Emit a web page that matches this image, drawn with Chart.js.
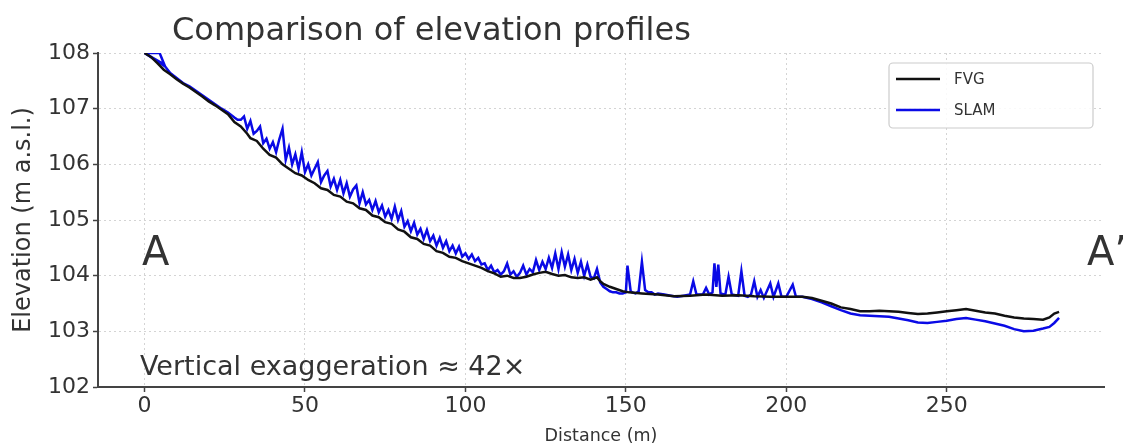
<!DOCTYPE html>
<html>
<head>
<meta charset="utf-8">
<script src="https://cdn.jsdelivr.net/npm/chart.js@4"></script>
<style>
  html, body { margin: 0; padding: 0; background: #fff; }
  #wrap { width: 1123px; height: 448px; position: relative; }
</style>
</head>
<body>
<div id="wrap"><canvas id="profileChart"></canvas></div>
<script>
// Distance (m) / elevation (m a.s.l.)
const distFvg = [0, 2, 4, 6, 8, 10, 12, 14, 16, 18, 20, 22, 24, 26, 28, 30, 32, 33, 35, 37, 39, 41, 43, 45, 47, 49,
  51, 53, 55, 57, 59, 61, 63, 65, 67, 69, 71, 73, 75, 77, 79, 81, 83, 85, 87, 89, 91, 93, 95, 97, 99,
  101, 103, 105, 107, 109, 111, 113, 115, 117, 119, 121, 123, 125, 127, 129, 131, 133, 135, 137, 139, 141, 142, 143, 145, 147, 149,
  151, 155, 160, 165, 170, 175, 180, 185, 190, 195, 200, 205, 208, 211, 214, 217, 220, 223, 226, 229, 232, 235, 238, 241, 244, 247,
  250, 253, 256, 259, 262, 265, 268, 271, 274, 277, 280, 282, 283.5, 285];
const elevFvg = [108.00, 107.93, 107.82, 107.70, 107.62, 107.53, 107.45, 107.38, 107.30, 107.22, 107.13, 107.06, 106.98, 106.90, 106.76, 106.68, 106.55, 106.47, 106.42, 106.28, 106.17, 106.12, 106.00, 105.92, 105.84, 105.80,
  105.72, 105.66, 105.57, 105.54, 105.45, 105.42, 105.33, 105.30, 105.21, 105.18, 105.08, 105.05, 104.96, 104.93, 104.83, 104.79, 104.69, 104.66, 104.57, 104.54, 104.44, 104.41, 104.34, 104.32, 104.26,
  104.22, 104.18, 104.14, 104.08, 104.04, 103.98, 104.00, 103.96, 103.96, 103.98, 104.02, 104.05, 104.07, 104.03, 104.00, 104.01, 103.97, 103.96, 103.97, 103.93, 103.97, 103.90, 103.85, 103.80, 103.76, 103.72,
  103.70, 103.68, 103.66, 103.63, 103.64, 103.66, 103.64, 103.65, 103.63, 103.62, 103.62, 103.62, 103.60, 103.55, 103.50, 103.43, 103.40, 103.36, 103.36, 103.37, 103.36, 103.35, 103.33, 103.31, 103.32, 103.34,
  103.36, 103.38, 103.40, 103.37, 103.34, 103.32, 103.28, 103.25, 103.23, 103.22, 103.21, 103.25, 103.32, 103.35];

const distSlam = [0, 4.7, 6.2, 0, 6.4, 8, 10, 12, 14, 16, 18, 20, 22, 24, 26, 28, 29,
  30, 31, 32, 33, 34, 35, 36, 37, 38, 39, 40, 41, 42, 43, 44, 45, 46, 47, 48, 49,
  50, 51, 52, 53, 54, 55, 56, 57, 58, 59, 60, 61, 62, 63, 64, 65, 66, 67, 68, 69,
  70, 71, 72, 73, 74, 75, 76, 77, 78, 79, 80, 81, 82, 83, 84, 85, 86, 87, 88, 89, 90, 91, 92, 93, 94, 95, 96, 97, 98, 99,
  100, 101, 102, 103, 104, 105, 106, 107, 108, 109, 110, 111, 112, 113, 114, 115, 116, 117, 118, 119, 120, 121, 122, 123, 124, 125, 126, 127, 128, 129,
  130, 131, 132, 133, 134, 135, 136, 137, 138, 139, 140, 141, 142, 143, 144, 145, 146, 147, 148, 149, 150, 150.5, 151.5, 152, 153, 154, 155, 156, 157, 158, 159,
  160, 162, 164, 166, 168, 170, 171, 172, 174, 175, 176, 177, 177.6, 178.2, 178.8, 179.5, 181, 182, 183, 185, 186, 187, 188, 189, 190, 191, 192, 193, 195, 196, 197.5, 198.5,
  200, 202, 203, 205, 208, 211, 214, 217, 220, 223, 226, 229, 232, 235, 238, 241, 244, 247, 250, 253, 256, 259, 262, 265, 268, 271, 274, 277, 280, 282, 283.5, 285];
const elevSlam = [108.00, 108.00, 107.79, 108.00, 107.76, 107.64, 107.55, 107.46, 107.40, 107.32, 107.24, 107.16, 107.08, 107.00, 106.93, 106.84, 106.80,
  106.80, 106.86, 106.64, 106.78, 106.55, 106.60, 106.68, 106.38, 106.46, 106.28, 106.40, 106.22, 106.45, 106.64, 106.08, 106.30, 106.00, 106.18, 105.92, 106.22,
  105.86, 106.00, 105.80, 105.92, 106.04, 105.68, 105.80, 105.88, 105.60, 105.74, 105.54, 105.72, 105.48, 105.66, 105.42, 105.55, 105.62, 105.30, 105.50, 105.28,
  105.36, 105.18, 105.34, 105.14, 105.26, 105.06, 105.18, 105.02, 105.24, 105.00, 105.16, 104.88, 104.98, 104.80, 104.95, 104.74, 104.84, 104.66, 104.82, 104.62, 104.72, 104.54, 104.68, 104.50, 104.62, 104.44, 104.54, 104.40, 104.52, 104.34,
  104.40, 104.30, 104.38, 104.26, 104.32, 104.20, 104.22, 104.10, 104.18, 104.06, 104.10, 104.02, 104.08, 104.22, 104.02, 104.08, 103.98, 104.05, 104.18, 104.02, 104.12, 104.06, 104.28, 104.10, 104.25, 104.12, 104.32, 104.14, 104.40, 104.12,
  104.42, 104.16, 104.38, 104.10, 104.30, 104.05, 104.25, 104.00, 104.20, 103.98, 103.95, 104.12, 103.88, 103.80, 103.76, 103.72, 103.70, 103.70, 103.68, 103.68, 103.70, 104.18, 103.72, 103.70, 103.68, 103.72, 104.25, 103.74, 103.70, 103.70, 103.66,
  103.68, 103.66, 103.64, 103.62, 103.64, 103.66, 103.90, 103.66, 103.66, 103.78, 103.66, 103.70, 104.22, 103.80, 104.20, 103.68, 103.66, 103.98, 103.66, 103.64, 104.08, 103.64, 103.62, 103.66, 103.90, 103.62, 103.74, 103.60, 103.86, 103.62, 103.86, 103.62,
  103.62, 103.84, 103.62, 103.62, 103.58, 103.52, 103.45, 103.38, 103.32, 103.29, 103.28, 103.27, 103.26, 103.23, 103.20, 103.16, 103.15, 103.17, 103.19, 103.22, 103.24, 103.21, 103.18, 103.14, 103.10, 103.04, 103.00, 103.01, 103.05, 103.08, 103.15, 103.24];

const xTicks = [0, 50, 100, 150, 200, 250];
const seriesNames = ['FVG', 'SLAM'];
const seriesColors = ['#111111', '#0a0ae6'];

const FONT = '"DejaVu Sans", sans-serif';
const TEXT = '#333333';

const toPoints = (xs, ys) => xs.map((x, i) => ({ x, y: ys[i] }));

// title, A / A' markers, annotation and the boxed legend
const overlay = {
  id: 'overlay',
  afterDraw(chart) {
    const ctx = chart.ctx;
    ctx.save();
    ctx.fillStyle = TEXT;
    ctx.textBaseline = 'alphabetic';
    ctx.textAlign = 'left';
    ctx.font = '32px ' + FONT;
    ctx.fillText('Comparison of elevation profiles', 172, 40);
    ctx.font = '40px ' + FONT;
    ctx.fillText('A', 142, 265);
    ctx.fillText('A\u2019', 1087, 265);
    ctx.font = '27px ' + FONT;
    ctx.fillText('Vertical exaggeration \u2248 42\u00d7', 140, 375);

    // legend box
    const bx = 889, by = 63, bw = 204, bh = 65;
    ctx.fillStyle = 'rgba(255,255,255,0.85)';
    ctx.strokeStyle = '#cccccc';
    ctx.lineWidth = 1.2;
    ctx.beginPath();
    ctx.roundRect(bx, by, bw, bh, 4);
    ctx.fill();
    ctx.stroke();
    ctx.font = '15px ' + FONT;
    ctx.textBaseline = 'middle';
    seriesNames.forEach((name, i) => {
      const ly = 79 + i * 31;
      ctx.strokeStyle = seriesColors[i];
      ctx.lineWidth = 2.5;
      ctx.beginPath();
      ctx.moveTo(896, ly);
      ctx.lineTo(940, ly);
      ctx.stroke();
      ctx.fillStyle = TEXT;
      ctx.fillText(name, 954, ly + 1);
    });
    ctx.restore();
  }
};

new Chart(document.getElementById('profileChart'), {
  type: 'line',
  data: {
    datasets: [
      { label: seriesNames[0], data: toPoints(distFvg, elevFvg), borderColor: seriesColors[0], borderWidth: 2.5, pointRadius: 0, tension: 0 },
      { label: seriesNames[1], data: toPoints(distSlam, elevSlam), borderColor: seriesColors[1], borderWidth: 2.5, pointRadius: 0, tension: 0 }
    ]
  },
  options: {
    responsive: true,
    maintainAspectRatio: false,
    animation: false,
    layout: { padding: { top: 53, right: 19, left: 0, bottom: 0 } },
    plugins: { legend: { display: false }, tooltip: { enabled: false } },
    scales: {
      x: {
        type: 'linear', min: -14.5, max: 299,
        afterBuildTicks: s => { s.ticks = xTicks.map(v => ({ value: v })); },
        afterFit: s => { s.height = 61; },
        grid: { color: '#d4d4d4', lineWidth: 1, tickColor: '#444', tickLength: 5, tickWidth: 1.5 },
        border: { color: '#444', width: 2, dash: [2, 3] },
        ticks: { color: TEXT, font: { family: FONT, size: 22 }, padding: 1, maxRotation: 0 },
        title: { display: true, text: 'Distance (m)', color: TEXT, font: { family: FONT, size: 17.5 }, padding: { top: 0, bottom: 1 } }
      },
      y: {
        min: 102, max: 108,
        ticks: { stepSize: 1, color: TEXT, font: { family: FONT, size: 22 }, padding: 3 },
        afterFit: s => { s.width = 98; },
        grid: { color: '#d4d4d4', lineWidth: 1, tickColor: '#444', tickLength: 5, tickWidth: 1.5 },
        border: { color: '#444', width: 2, dash: [2, 3] },
        title: { display: true, text: 'Elevation (m a.s.l.)', color: TEXT, font: { family: FONT, size: 24 }, padding: { top: 9, bottom: 0 } }
      }
    }
  },
  plugins: [overlay]
});
</script>
</body>
</html>
